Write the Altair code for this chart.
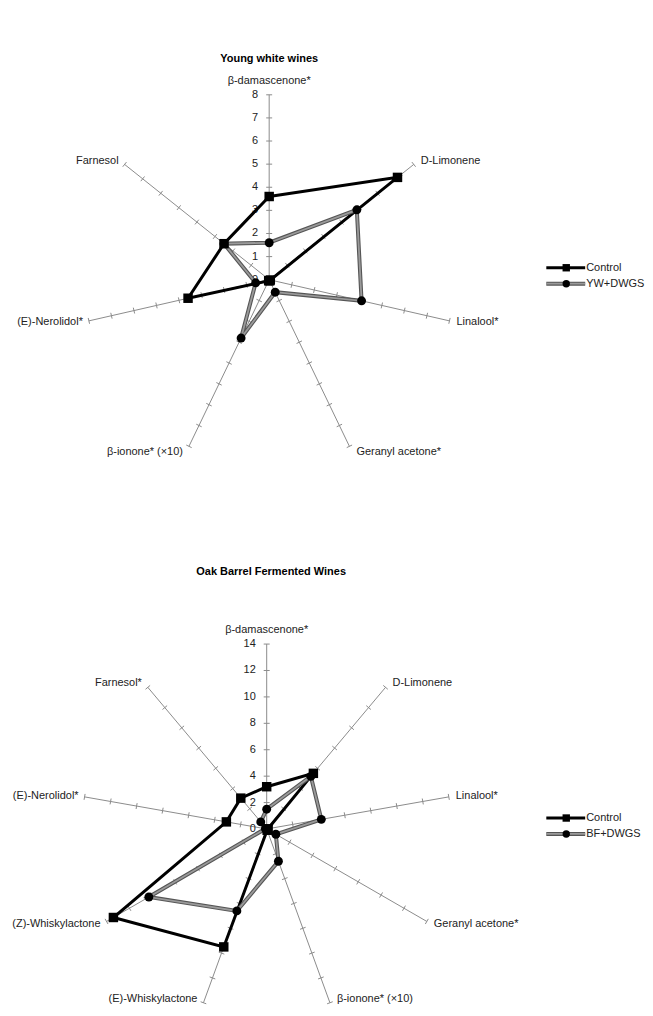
import math
import altair as alt
import pandas as pd

# ---------------- data ----------------
TOP_TITLE = "Young white wines"
TOP_AXES = ["β-damascenone*", "D-Limonene", "Linalool*", "Geranyl acetone*",
            "β-ionone* (×10)", "(E)-Nerolidol*", "Farnesol"]
TOP_SERIES = ["Control", "YW+DWGS"]
TOP_CONTROL = [3.6, 7.1, 0.05, 0.05, 0.05, 3.6, 2.5]
TOP_DWGS = [1.6, 4.85, 4.1, 0.6, 2.8, 0.6, 2.5]
TOP_TICKS = [0, 1, 2, 3, 4, 5, 6, 7, 8]

BOT_TITLE = "Oak Barrel Fermented Wines"
BOT_AXES = ["β-damascenone*", "D-Limonene", "Linalool*", "Geranyl acetone*",
            "β-ionone* (×10)", "(E)-Whiskylactone", "(Z)-Whiskylactone",
            "(E)-Nerolidol*", "Farnesol*"]
BOT_SERIES = ["Control", "BF+DWGS"]
BOT_CONTROL = [3.2, 5.5, 0.1, 0.1, 0.1, 9.5, 13.4, 3.1, 3.05]
BOT_DWGS = [1.5, 5.2, 4.2, 0.8, 2.6, 6.6, 10.3, 0.1, 0.7]
BOT_TICKS = [0, 2, 4, 6, 8, 10, 12, 14]

# ---------------- layout ----------------
FONT = "Liberation Sans"
W = 637
R = 185.5          # pixel radius of the outer ring
LABEL_SIZE = 11


def panel(title, axes, series, values, ticks, H, cx, cy, title_xy, legend_xy):
    n = len(axes)
    vmax = ticks[-1]
    xs = alt.Scale(domain=[-cx / R, (W - cx) / R], nice=False, zero=False)
    ys = alt.Scale(domain=[-(H - cy) / R, cy / R], nice=False, zero=False)
    X = lambda f: alt.X(f, type="quantitative", scale=xs, axis=None)
    Y = lambda f: alt.Y(f, type="quantitative", scale=ys, axis=None)
    ang = [2 * math.pi * i / n for i in range(n)]

    # spokes
    spokes = pd.DataFrame({
        "axis": axes,
        "x0": 0.0, "y0": 0.0,
        "x1": [math.sin(a) for a in ang],
        "y1": [math.cos(a) for a in ang],
    })
    spoke_layer = alt.Chart(spokes).mark_rule(color="#8c8c8c", strokeWidth=1).encode(
        x=X("x0"), y=Y("y0"), x2="x1", y2="y1")

    # tick marks
    h = 3.0 / R
    rows = []
    for a in ang:
        for t in ticks[1:]:
            u = t / vmax
            px, py = u * math.sin(a), u * math.cos(a)
            rows.append({"x0": px - h * math.cos(a), "y0": py + h * math.sin(a),
                         "x1": px + h * math.cos(a), "y1": py - h * math.sin(a)})
    tick_layer = alt.Chart(pd.DataFrame(rows)).mark_rule(color="#8c8c8c", strokeWidth=1).encode(
        x=X("x0"), y=Y("y0"), x2="x1", y2="y1")

    # numeric labels on first spoke
    nums = pd.DataFrame({"t": ticks, "x": 0.0, "y": [t / vmax for t in ticks]})
    num_layer = alt.Chart(nums).mark_text(
        align="right", baseline="middle", dx=-11, font=FONT, fontSize=LABEL_SIZE,
        color="#222222").encode(x=X("x"), y=Y("y"), text="t:Q")

    # axis labels
    lab = []
    for name, a in zip(axes, ang):
        s, c = math.sin(a), math.cos(a)
        ex, ey = s * R, c * R  # pixel offsets from centre (y up)
        if abs(s) < 0.05:
            al, dx, dy = "center", 0.0, (14.0 if c > 0 else -14.0)
        elif s > 0:
            al, dx, dy = "left", 7.0, 6.0 * c
        else:
            al, dx, dy = "right", -6.0, 6.0 * c
        ly = ey + dy
        ly = max(ly, -(H - cy) + 7)  # keep inside the panel
        lab.append({"name": name, "al": al, "x": (ex + dx) / R, "y": ly / R})
    labdf = pd.DataFrame(lab)
    label_layers = []
    for al in ["left", "center", "right"]:
        sub = labdf[labdf["al"] == al]
        if len(sub):
            label_layers.append(alt.Chart(sub).mark_text(
                align=al, baseline="middle", font=FONT, fontSize=LABEL_SIZE,
                color="#222222").encode(x=X("x"), y=Y("y"), text="name:N"))

    # series
    colors = ["#000000", "#808080"]
    shapes = ["square", "circle"]
    series_layers = []
    point_layers = []
    for k, (sname, vals) in enumerate(zip(series, values)):
        pts = []
        for i in range(n + 1):
            j = i % n
            u = vals[j] / vmax
            pts.append({"series": sname, "axis": axes[j], "value": vals[j], "order": i,
                        "x": u * math.sin(ang[j]), "y": u * math.cos(ang[j])})
        df = pd.DataFrame(pts)
        if k == 0:
            series_layers.append(alt.Chart(df).mark_line(
                color=colors[k], strokeWidth=3, strokeJoin="miter").encode(
                x=X("x"), y=Y("y"), order="order:Q"))
        else:
            series_layers.append(alt.Chart(df).mark_line(
                color="#555555", strokeWidth=4, strokeJoin="miter").encode(
                x=X("x"), y=Y("y"), order="order:Q"))
            series_layers.append(alt.Chart(df).mark_line(
                color="#9a9a9a", strokeWidth=1.8, strokeJoin="miter").encode(
                x=X("x"), y=Y("y"), order="order:Q"))
        point_layers.append(alt.Chart(df[df["order"] < n]).mark_point(
            shape=shapes[k], filled=True, color="#000000", opacity=1,
            size=(90 if k == 0 else 80)).encode(x=X("x"), y=Y("y")))

    # title
    tdf = pd.DataFrame({"t": [title]})
    title_layer = alt.Chart(tdf).mark_text(
        font=FONT, fontSize=11, fontWeight="bold", align="center", baseline="middle",
        color="#000000").encode(x=alt.value(title_xy[0]), y=alt.value(title_xy[1]), text="t:N")

    # legend
    lx, ly0, step = legend_xy
    leg_layers = []
    for k, sname in enumerate(series):
        ldf = pd.DataFrame({"series": [sname]})
        yv = ly0 + k * step
        if k == 0:
            leg_layers.append(alt.Chart(ldf).mark_rule(color="#000000", strokeWidth=3).encode(
                x=alt.value(lx), x2=alt.value(lx + 39), y=alt.value(yv)))
        else:
            leg_layers.append(alt.Chart(ldf).mark_rule(color="#555555", strokeWidth=4).encode(
                x=alt.value(lx), x2=alt.value(lx + 39), y=alt.value(yv)))
            leg_layers.append(alt.Chart(ldf).mark_rule(color="#9a9a9a", strokeWidth=1.8).encode(
                x=alt.value(lx), x2=alt.value(lx + 39), y=alt.value(yv)))
        leg_layers.append(alt.Chart(ldf).mark_point(
            shape=shapes[k], filled=True, color="#000000", opacity=1, size=55).encode(
            x=alt.value(lx + 20), y=alt.value(yv)))
        leg_layers.append(alt.Chart(ldf).mark_text(
            align="left", baseline="middle", font=FONT, fontSize=LABEL_SIZE,
            color="#222222").encode(x=alt.value(lx + 40), y=alt.value(yv), text="series:N"))

    layers = ([spoke_layer, tick_layer, num_layer] + label_layers + series_layers
              + point_layers + [title_layer] + leg_layers)
    return alt.layer(*layers).properties(width=W, height=H)


TOP_H = 495
BOT_H = 505
top = panel(TOP_TITLE, TOP_AXES, TOP_SERIES, [TOP_CONTROL, TOP_DWGS], TOP_TICKS,
            TOP_H, cx=262, cy=271, title_xy=(262, 50), legend_xy=(540, 259, 16))
bottom = panel(BOT_TITLE, BOT_AXES, BOT_SERIES, [BOT_CONTROL, BOT_DWGS], BOT_TICKS,
               BOT_H, cx=259.5, cy=327, title_xy=(264, 69), legend_xy=(540, 316, 16))

chart = alt.vconcat(top, bottom, spacing=0).resolve_scale(
    x="independent", y="independent").properties(padding=0).configure_view(stroke=None)

chart.save("out.html", embed_options={"renderer": "svg", "actions": False})
